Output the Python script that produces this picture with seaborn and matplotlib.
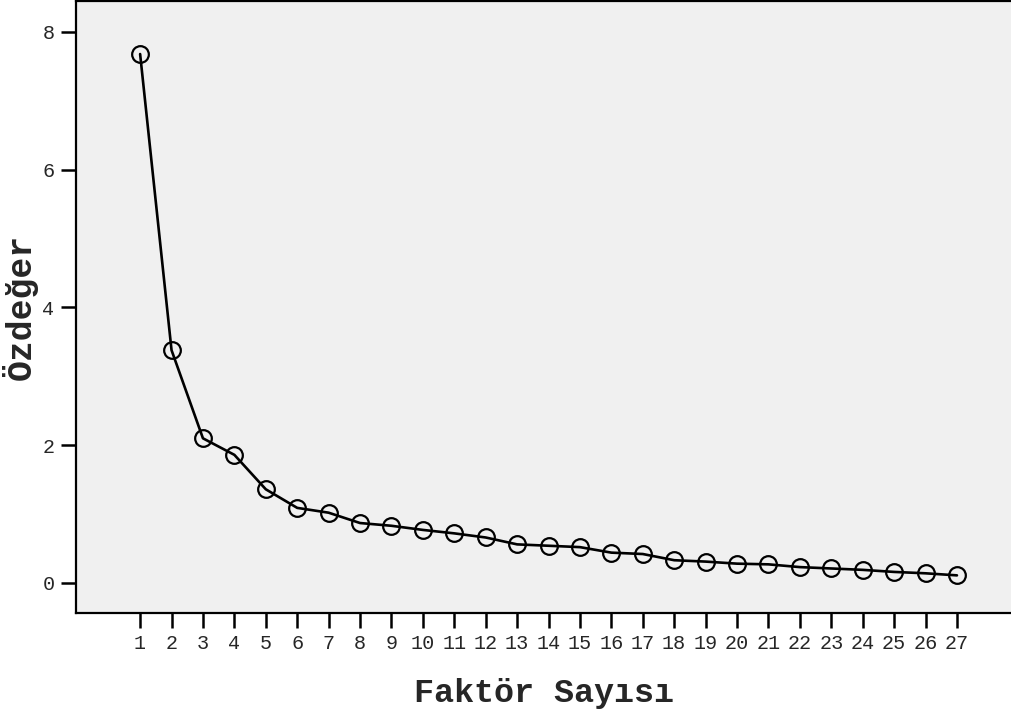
import numpy as np
import pandas as pd
import seaborn as sns
import matplotlib
matplotlib.use("Agg")
import matplotlib.pyplot as plt

# scree plot values
factor_no = list(range(1, 28))
eigenvalues = [7.68, 3.38, 2.10, 1.86, 1.36, 1.09, 1.02, 0.87, 0.83, 0.77,
               0.72, 0.66, 0.56, 0.54, 0.52, 0.44, 0.42, 0.33, 0.31, 0.28,
               0.27, 0.23, 0.21, 0.19, 0.16, 0.14, 0.11]
y_ticks = [0, 2, 4, 6, 8]

df = pd.DataFrame({"Faktör": factor_no, "Özdeğer": eigenvalues})

sns.set_style("white")
plt.rcParams['font.family'] = ['Liberation Mono', 'DejaVu Sans Mono']

fig = plt.figure(figsize=(10.11, 7.15), dpi=100)
ax = fig.add_axes([0.0752, 0.1427, 0.9248, 0.8559])
ax.set_facecolor('#F0F0F0')

sns.lineplot(data=df, x="Faktör", y="Özdeğer", ax=ax, color='black',
             linewidth=1.9, marker='o', markersize=12,
             markerfacecolor='none', markeredgecolor='black',
             markeredgewidth=1.6)

ax.set_xlim(-1.04, 28.72)
ax.set_ylim(-0.436, 8.45)
ax.set_xticks(factor_no)
ax.set_xticklabels([str(i) for i in factor_no])
ax.set_yticks(y_ticks)

for side in ['left', 'top', 'bottom']:
    ax.spines[side].set_color('black')
    ax.spines[side].set_linewidth(1.6)
ax.spines['right'].set_visible(False)

ax.tick_params(axis='both', which='major', direction='out', length=10.5,
               width=1.8, color='black', labelsize=14.5, pad=5,
               left=True, bottom=True)

ax.set_xlabel('Faktör Sayısı', fontsize=24, fontweight='bold', va='center')
ax.set_ylabel('Özdeğer', fontsize=25, fontweight='bold', va='center')
ax.xaxis.set_label_coords(0.5, -0.1324)
ax.yaxis.set_label_coords(-0.0599, 0.5)

fig.savefig('out.png', dpi=100)
